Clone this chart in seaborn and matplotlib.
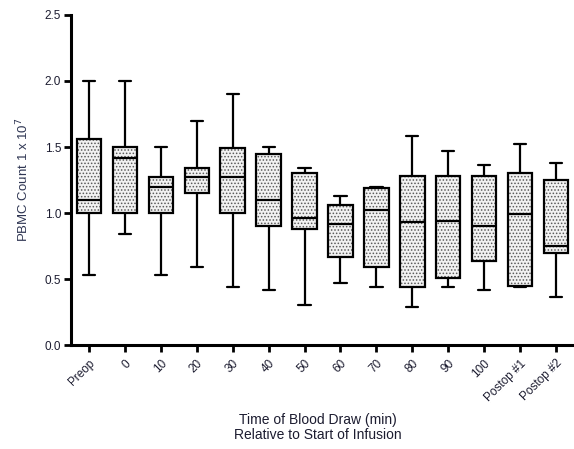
import numpy as np
import pandas as pd
import matplotlib
matplotlib.use("Agg")
import matplotlib.pyplot as plt
from matplotlib.colors import to_rgba
import seaborn as sns

# Time points of the blood draws
categories = ["Preop", "0", "10", "20", "30", "40", "50", "60", "70", "80",
              "90", "100", "Postop #1", "Postop #2"]

# Five-number summaries per time point (PBMC count, x 10^7)
minimum = [0.53, 0.84, 0.53, 0.59, 0.44, 0.42, 0.30, 0.47, 0.44, 0.29,
           0.44, 0.42, 0.44, 0.36]
q1 = [1.00, 1.00, 1.00, 1.15, 1.00, 0.90, 0.88, 0.67, 0.59, 0.44,
      0.51, 0.64, 0.45, 0.70]
median = [1.10, 1.42, 1.20, 1.27, 1.27, 1.10, 0.96, 0.92, 1.02, 0.93,
          0.94, 0.90, 0.99, 0.75]
q3 = [1.56, 1.50, 1.27, 1.34, 1.49, 1.45, 1.30, 1.06, 1.19, 1.28,
      1.28, 1.28, 1.30, 1.25]
maximum = [2.00, 2.00, 1.50, 1.70, 1.90, 1.50, 1.34, 1.13, 1.20, 1.58,
           1.47, 1.36, 1.52, 1.38]

y_ticks = [0.0, 0.5, 1.0, 1.5, 2.0, 2.5]

# Long-form table: five values per group reproduce the summary exactly
rows = []
for i, cat in enumerate(categories):
    for v in (minimum[i], q1[i], median[i], q3[i], maximum[i]):
        rows.append({"time": cat, "count": v})
df = pd.DataFrame(rows)

sns.set_style("ticks")
plt.rcParams["font.family"] = ["Liberation Sans", "DejaVu Sans"]
plt.rcParams["hatch.linewidth"] = 0.7
plt.rcParams["axes.edgecolor"] = "black"
plt.rcParams["xtick.color"] = "black"
plt.rcParams["ytick.color"] = "black"

text_color = "#1c1c30"
fig = plt.figure(figsize=(5.74, 4.49), dpi=100)
ax = fig.add_axes([0.1237, 0.2316, 0.8763, 0.735])

sns.boxplot(data=df, x="time", y="count", order=categories, ax=ax,
            whis=(0, 100), width=0.68, color="#f2f2f2",
            linecolor="black", linewidth=1.6, showfliers=False)

# Stippled fill of the boxes
for patch in ax.patches:
    patch.set_hatch(".....")
    if hasattr(patch, "set_hatchcolor"):
        patch.set_hatchcolor("#5a5a5a")
    else:
        patch._hatch_color = to_rgba("#5a5a5a")

ax.set_xlim(-0.5, len(categories) - 0.5)
ax.set_ylim(0, 2.5)
ax.set_yticks(y_ticks)
ax.set_yticklabels([f"{t:.1f}" for t in y_ticks])
ax.set_xticks(range(len(categories)))
ax.set_xticklabels(categories, rotation=45, ha="right",
                   rotation_mode="anchor")

ax.tick_params(axis="both", direction="out", length=5, width=2,
               labelsize=8.5, labelcolor=text_color, pad=2)
ax.tick_params(axis="x", pad=4)
for side in ("left", "bottom"):
    ax.spines[side].set_linewidth(2.2)
for side in ("top", "right"):
    ax.spines[side].set_visible(False)

ax.set_ylabel("PBMC Count 1 x 10$^{7}$", fontsize=9.5, color="#2e3552",
              labelpad=10)
ax.set_xlabel("")
fig.text(0.553, 0.047, "Time of Blood Draw (min)\nRelative to Start of Infusion",
         ha="center", va="center", fontsize=10, color=text_color,
         linespacing=1.1)

fig.savefig("out.png", dpi=100)
